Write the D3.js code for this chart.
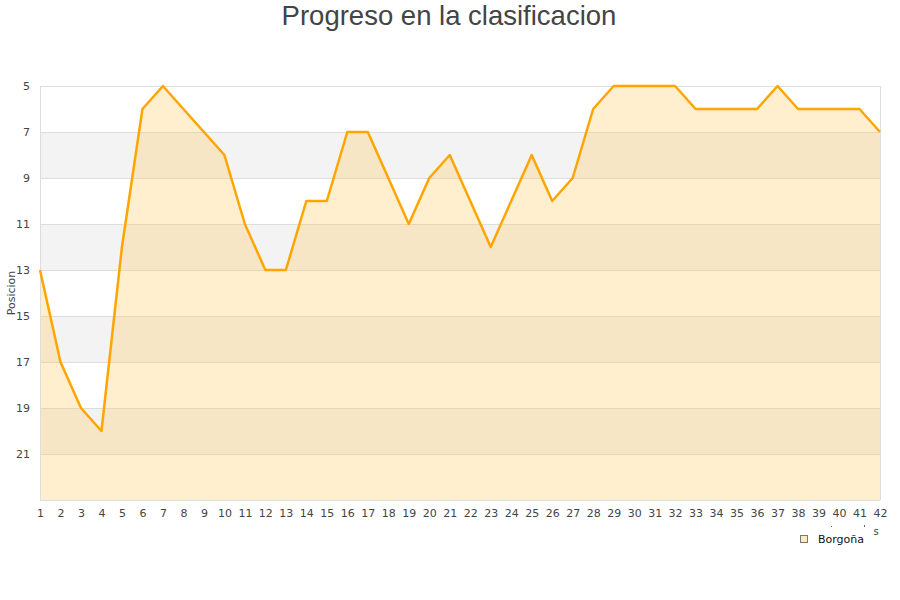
<!DOCTYPE html>
<html><head><meta charset="utf-8">
<script src="https://cdn.jsdelivr.net/npm/d3@7/dist/d3.min.js"></script>
<style>body{margin:0;background:#fff}svg{display:block}</style>
</head><body>
<svg id="c" width="900" height="600"></svg>
<script>
const title = "Progreso en la clasificacion";
const yTitle = "Posicion";
const seriesName = "Borgoña";
const jornadas = d3.range(1, 43);
const posiciones = [13,17,19,20,12,6,5,6,7,8,11,13,13,10,10,7,7,9,11,9,8,10,12,10,8,10,9,6,5,5,5,5,6,6,6,6,5,6,6,6,6,7];
const yTicks = [5,7,9,11,13,15,17,19,21];
const yDomain = [5, 23];

const svg = d3.select("#c");
const m = {l:40, r:20, t:86, b:100};
const W = 900, H = 600;
const x = d3.scaleLinear().domain([1, 42]).range([m.l, W - m.r]);
const y = d3.scaleLinear().domain(yDomain).range([m.t, H - m.b]);

// bands
const bands = d3.range(yDomain[0], yDomain[1], 2);
svg.append("g").selectAll("rect").data(bands).join("rect")
  .attr("x", x(1)).attr("width", x(42) - x(1))
  .attr("y", d => y(d)).attr("height", d => y(d + 2) - y(d))
  .attr("fill", (d, i) => i % 2 ? "#f3f3f3" : "#ffffff");

// grid
svg.append("g").selectAll("line").data(yTicks.concat([23])).join("line")
  .attr("x1", x(1)).attr("x2", x(42))
  .attr("y1", d => y(d)).attr("y2", d => y(d))
  .attr("stroke", "#dddddd").attr("stroke-width", 1).attr("shape-rendering", "crispEdges");

// area
const data = jornadas.map((j, i) => ({j, p: posiciones[i]}));
svg.append("path").datum(data)
  .attr("d", d3.area().x(d => x(d.j)).y0(y(23)).y1(d => y(d.p)))
  .attr("fill", "rgba(255,196,80,0.28)");

// border
svg.append("line").attr("x1", x(1)).attr("x2", x(1)).attr("y1", y(5)).attr("y2", y(23))
  .attr("stroke", "#dddddd").attr("shape-rendering", "crispEdges");
svg.append("line").attr("x1", x(42)).attr("x2", x(42)).attr("y1", y(5)).attr("y2", y(23))
  .attr("stroke", "#dddddd").attr("shape-rendering", "crispEdges");

// line
svg.append("path").datum(data)
  .attr("d", d3.line().x(d => x(d.j)).y(d => y(d.p)))
  .attr("fill", "none").attr("stroke", "#ffa500").attr("stroke-width", 2.5)
  .attr("stroke-linejoin", "round");

// y axis labels
const yAxis = d3.axisLeft(y).tickValues(yTicks).tickSize(0).tickPadding(10);
const gy = svg.append("g").attr("transform", `translate(${x(1)},0)`).call(yAxis);
gy.select(".domain").remove();
gy.selectAll("text").attr("font-family", "DejaVu Sans").attr("font-size", 11).attr("fill", "#444");

// x axis labels
const xAxis = d3.axisBottom(x).tickValues(jornadas).tickSize(0).tickPadding(9).tickFormat(d3.format("d"));
const gx = svg.append("g").attr("transform", `translate(0,${y(23)})`).call(xAxis);
gx.select(".domain").remove();
gx.selectAll("text").attr("font-family", "DejaVu Sans").attr("font-size", 11).attr("fill", "#444");

// titles
svg.append("text").attr("x", 449).attr("y", 25).attr("text-anchor", "middle")
  .attr("font-family", "Liberation Sans, Arial, sans-serif").attr("font-size", 27.5).attr("fill", "#444")
  .text(title);
svg.append("text").attr("transform", "translate(15,293) rotate(-90)").attr("text-anchor", "middle")
  .attr("font-family", "DejaVu Sans").attr("font-size", 11).attr("fill", "#444").text(yTitle);

// clipped x-axis title remnants
svg.append("text").attr("x", 876).attr("y", 535).attr("text-anchor", "middle")
  .attr("font-family", "DejaVu Sans").attr("font-size", 10).attr("fill", "#444").text("s");
svg.append("rect").attr("x", 831).attr("y", 526).attr("width", 1).attr("height", 1).attr("fill", "#666");
svg.append("rect").attr("x", 864).attr("y", 525).attr("width", 1).attr("height", 2).attr("fill", "#666");

// legend
svg.append("rect").attr("x", 800.5).attr("y", 535.5).attr("width", 7).attr("height", 7)
  .attr("fill", "#fde9c3").attr("stroke", "#777").attr("stroke-width", 1);
svg.append("text").attr("x", 818).attr("y", 543).attr("font-family", "DejaVu Sans")
  .attr("font-size", 11).attr("fill", "#111").text(seriesName);
</script>
</body></html>
